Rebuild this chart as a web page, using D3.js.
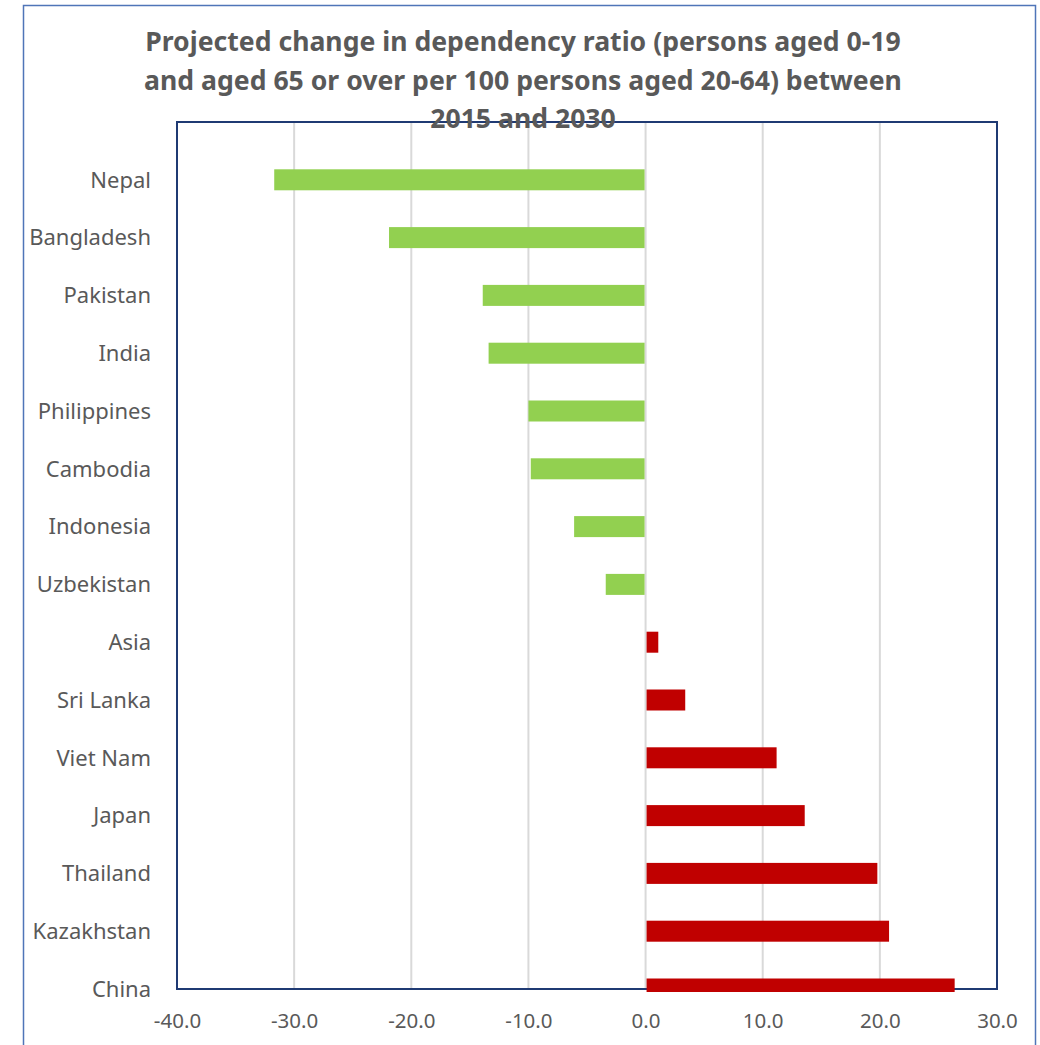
<!DOCTYPE html>
<html>
<head>
<meta charset="utf-8">
<script src="https://cdn.jsdelivr.net/npm/d3@7"></script>
<style>
  body { margin: 0; background: #fff; }
  svg { display: block; font-family: "Noto Sans", "Open Sans", sans-serif; }
</style>
</head>
<body>
<svg id="chart" width="1040" height="1045"></svg>
<script>
// data
const countries = ["Nepal", "Bangladesh", "Pakistan", "India", "Philippines", "Cambodia",
  "Indonesia", "Uzbekistan", "Asia", "Sri Lanka", "Viet Nam", "Japan", "Thailand",
  "Kazakhstan", "China"];
const change = [-31.7, -21.9, -13.9, -13.4, -10.0, -9.8, -6.1, -3.4, 1.0, 3.3, 11.1, 13.5, 19.7, 20.7, 26.3];
const xTicks = [-40, -30, -20, -10, 0, 10, 20, 30];
const titleLines = [
  "Projected change in dependency ratio (persons aged 0-19",
  "and aged 65 or over per 100 persons aged 20-64) between",
  "2015 and 2030"
];

const svg = d3.select("#chart"),
      width = +svg.attr("width"),
      height = +svg.attr("height"),
      margin = {top: 122, right: 43, bottom: 56, left: 177};

const textColor = "#595959";

// outer chart border
svg.append("rect")
    .attr("x", 23.5).attr("y", 5.5)
    .attr("width", 1012).attr("height", 1060)
    .attr("fill", "none")
    .attr("stroke", "#4f75b8")
    .attr("stroke-width", 1.5);

const x = d3.scaleLinear().domain([-40, 30]).range([margin.left, width - margin.right]);
// empty slot at top, last category sits on the bottom edge
const y = d3.scalePoint().domain([""].concat(countries)).range([margin.top, height - margin.bottom]);

// gridlines
svg.append("g")
    .selectAll("line")
    .data(xTicks)
    .join("line")
    .attr("x1", d => x(d)).attr("x2", d => x(d))
    .attr("y1", margin.top).attr("y2", height - margin.bottom)
    .attr("stroke", "#d9d9d9")
    .attr("stroke-width", 2);

// plot area frame
svg.append("rect")
    .attr("x", margin.left).attr("y", margin.top)
    .attr("width", width - margin.right - margin.left)
    .attr("height", height - margin.bottom - margin.top)
    .attr("fill", "none")
    .attr("stroke", "#1f3a73")
    .attr("stroke-width", 2);

// bars, clipped a little below the plot bottom like the original
svg.append("clipPath").attr("id", "clip")
  .append("rect")
    .attr("x", 0).attr("y", margin.top)
    .attr("width", width).attr("height", height - margin.bottom - margin.top + 3);

const barH = 21;
svg.append("g")
    .attr("clip-path", "url(#clip)")
    .selectAll("rect")
    .data(countries)
    .join("rect")
    .attr("x", (d, i) => change[i] < 0 ? x(change[i]) : x(0) + 1)
    .attr("y", d => y(d) - barH / 2)
    .attr("width", (d, i) => Math.abs(x(change[i]) - x(0)) - (change[i] < 0 ? 1 : 0))
    .attr("height", barH)
    .attr("fill", (d, i) => change[i] < 0 ? "#92d050" : "#c00000");

// category labels
svg.append("g")
    .selectAll("text")
    .data(countries)
    .join("text")
    .attr("x", 151)
    .attr("y", d => y(d))
    .attr("dy", "0.35em")
    .attr("text-anchor", "end")
    .attr("fill", textColor)
    .attr("font-size", 22)
    .text(d => d);

// x tick labels (plain hyphen for negatives, like the original)
const xAxis = d3.axisBottom(x)
    .tickValues(xTicks)
    .tickSize(0)
    .tickPadding(24)
    .tickFormat(d => d.toFixed(1));

svg.append("g")
    .attr("transform", `translate(0,${height - margin.bottom})`)
    .call(xAxis)
    .call(g => g.select(".domain").remove())
    .call(g => g.selectAll("text")
        .attr("fill", textColor)
        .attr("font-size", 20.5)
        .attr("font-family", "\"Noto Sans\", sans-serif"));

// title
svg.append("text")
    .attr("text-anchor", "middle")
    .attr("fill", textColor)
    .attr("font-size", 26.6)
    .attr("font-weight", "bold")
    .selectAll("tspan")
    .data(titleLines)
    .join("tspan")
    .attr("x", 523)
    .attr("y", (d, i) => 51 + i * 38.5)
    .text(d => d);
</script>
</body>
</html>
